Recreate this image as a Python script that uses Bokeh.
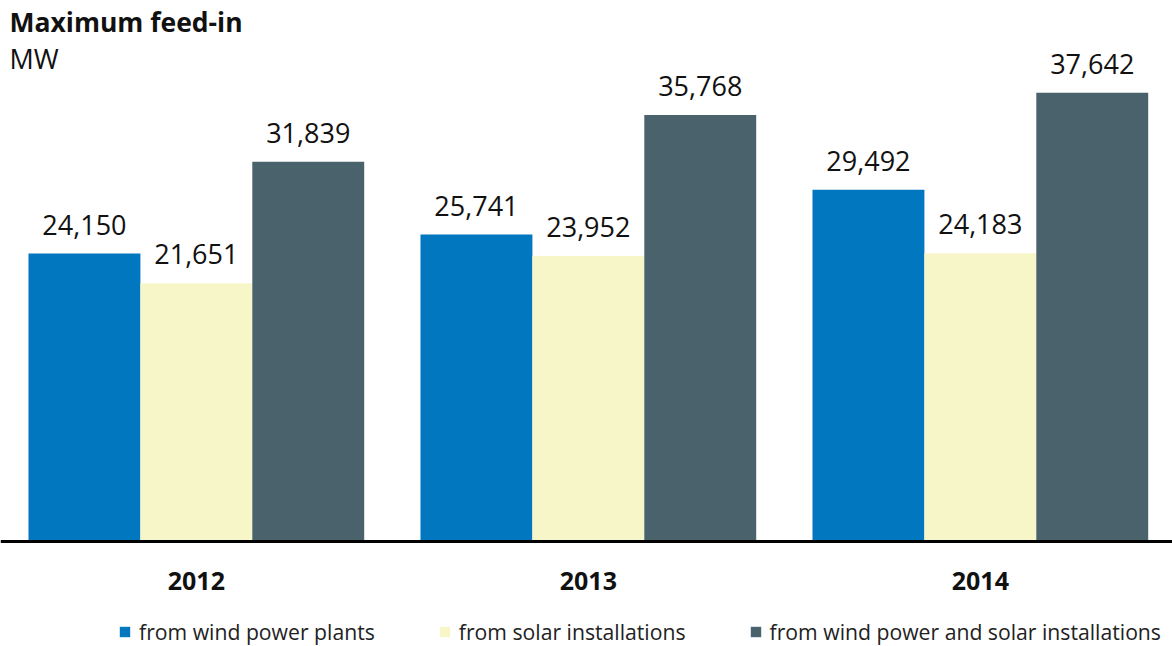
from bokeh.plotting import figure
from bokeh.models import ColumnDataSource, Range1d, Span, Label, Legend, LegendItem
from bokeh.embed import file_html
from bokeh.resources import INLINE
from bokeh.core.properties import value

years = ["2012", "2013", "2014"]
wind = [24150, 25741, 29492]
solar = [21651, 23952, 24183]
combined = [31839, 35768, 37642]
series_names = ["from wind power plants", "from solar installations",
                "from wind power and solar installations"]
series_colors = ["#0077BE", "#F7F6C9", "#4A626C"]

W, H = 1172, 646
BASE_PX = 541          # pixel row of the zero line
MW_PER_PX = 83.86      # vertical scale
GROUP_LEFT = 28
GROUP_STEP = 392
BAR_W = 111.9

def ydata(px):
    return (BASE_PX - px) * MW_PER_PX

p = figure(width=W, height=H, output_backend="svg", toolbar_location=None,
           x_range=Range1d(0, W), y_range=Range1d(ydata(H), ydata(0)),
           x_axis_location=None, y_axis_location=None, min_border=0)
p.outline_line_color = None
p.xgrid.visible = False
p.ygrid.visible = False
p.background_fill_color = "white"

FONT = "Open Sans"
renderers = []
for s, (vals, color) in enumerate(zip([wind, solar, combined], series_colors)):
    xs = [GROUP_LEFT + g * GROUP_STEP + s * BAR_W + BAR_W / 2 for g in range(len(years))]
    src = ColumnDataSource(dict(x=xs, top=vals,
                                lbl=[f"{v:,}" for v in vals]))
    r = p.vbar(x="x", top="top", bottom=0, width=BAR_W, source=src,
               fill_color=color, line_color=None)
    renderers.append(r)
    p.text(x="x", y="top", text="lbl", source=src, text_align="center",
           text_baseline="alphabetic", y_offset=-29,
           text_font=value(FONT), text_font_size="27px", text_color="#111111")

p.add_layout(Span(location=0, dimension="width", line_color="black", line_width=3))

ysrc = ColumnDataSource(dict(
    x=[GROUP_LEFT + g * GROUP_STEP + 1.5 * BAR_W for g in range(len(years))],
    y=[ydata(580)] * len(years), t=years))
p.text(x="x", y="y", text="t", source=ysrc, text_align="center",
       text_baseline="alphabetic", text_font=value(FONT), text_font_size="25px",
       text_font_style="bold", text_color="#111111")

p.add_layout(Label(x=9, y=ydata(21), text="Maximum feed-in", text_font=FONT,
                   text_font_size="26.5px", text_font_style="bold", text_color="#111111",
                   text_baseline="alphabetic"))
p.add_layout(Label(x=9, y=ydata(58), text="MW", text_font=FONT,
                   text_font_size="27px", text_color="#111111",
                   text_baseline="alphabetic"))

legend = Legend(items=[LegendItem(label=n, renderers=[r]) for n, r in zip(series_names, renderers)],
                orientation="horizontal", location=(118, 0),
                glyph_width=13, glyph_height=13, label_standoff=8, spacing=63,
                label_text_font=FONT, label_text_font_size="21.2px",
                label_text_color="#222222", border_line_alpha=0,
                background_fill_alpha=0, padding=0, margin=0)
p.add_layout(legend, "center")

open("out.html", "w").write(file_html(p, INLINE))
